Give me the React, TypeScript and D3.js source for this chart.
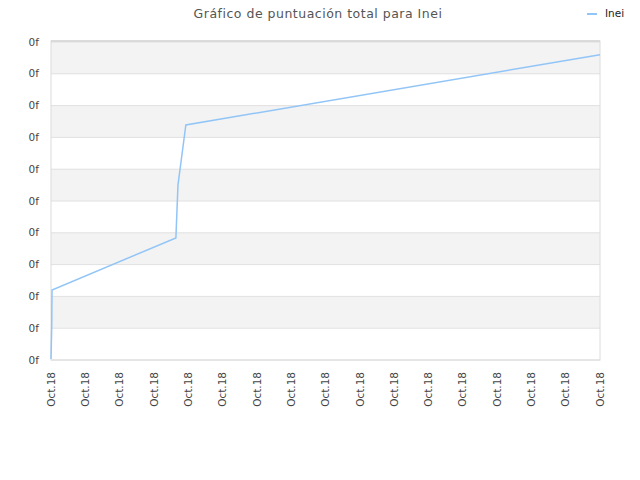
import { line, range, scaleLinear } from "d3";
import React from "react";

// score series for "Inei" (x in tick units, y in grid units)
const seriesX = [0, 0.02, 0.03, 3.64, 3.7, 3.93, 16];
const seriesY = [0.03, 1.0, 2.2, 3.84, 5.5, 7.39, 9.6];
const xTickLabels = range(17).map(() => "Oct.18");
const yTickLabels = range(11).map(() => "0f");
const title = "Gráfico de puntuación total para Inei";
const seriesName = "Inei";

const width = 640;
const height = 480;
const margin = { top: 42, right: 40, bottom: 120, left: 51 };
const innerWidth = width - margin.left - margin.right;
const innerHeight = height - margin.top - margin.bottom;

const xScale = scaleLinear().domain([0, 16]).range([0, innerWidth]);
const yScale = scaleLinear().domain([0, 10]).range([innerHeight, 0]);
const path = line<number>()
  .x((_, i) => xScale(seriesX[i]))
  .y((d) => yScale(d));

const font = "'DejaVu Sans', sans-serif";
const lineColor = "#92c5f7";

export default function App() {
  return (
    <svg
      width={width}
      height={height}
      viewBox={`0 0 ${width} ${height}`}
      style={{ position: "absolute", left: 0, top: 0, background: "white" }}
      fontFamily={font}
    >
      <text
        x={318}
        y={18}
        textAnchor="middle"
        fontSize={12.5}
        letterSpacing={0.5}
        fill="#555"
      >
        {title}
      </text>
      <line x1={587} x2={597} y1={14} y2={14} stroke={lineColor} strokeWidth={2} />
      <text x={605} y={17} fontSize={10.5} fill="#222">
        {seriesName}
      </text>
      <g transform={`translate(${margin.left}, ${margin.top})`}>
        {range(10).map((i) =>
          i % 2 === 1 ? (
            <rect
              key={i}
              x={0}
              y={yScale(i + 1)}
              width={innerWidth}
              height={yScale(i) - yScale(i + 1)}
              fill="#f3f3f3"
            />
          ) : null
        )}
        {yTickLabels.map((t, i) => (
          <g key={i}>
            <line x1={0} x2={innerWidth} y1={yScale(i)} y2={yScale(i)} stroke="#e0e0e0" />
            <text
              x={-12}
              y={yScale(i)}
              dy="0.35em"
              textAnchor="end"
              fontSize={10.5}
              fill="#444"
            >
              {t}
            </text>
          </g>
        ))}
        <rect
          x={0}
          y={-1}
          width={innerWidth}
          height={innerHeight + 1}
          fill="none"
          stroke="#dcdcdc"
        />
        <line x1={0} x2={innerWidth} y1={-1} y2={-1} stroke="#d4d4d4" strokeWidth={1.5} />
        {xTickLabels.map((t, i) => (
          <text
            key={i}
            transform={`translate(${xScale(i)}, ${innerHeight + 12}) rotate(-90)`}
            dy="0.35em"
            textAnchor="end"
            fontSize={10.5}
            fill="#444"
          >
            {t}
          </text>
        ))}
        <path d={path(seriesY) ?? ""} fill="none" stroke={lineColor} strokeWidth={1.5} />
      </g>
    </svg>
  );
}
